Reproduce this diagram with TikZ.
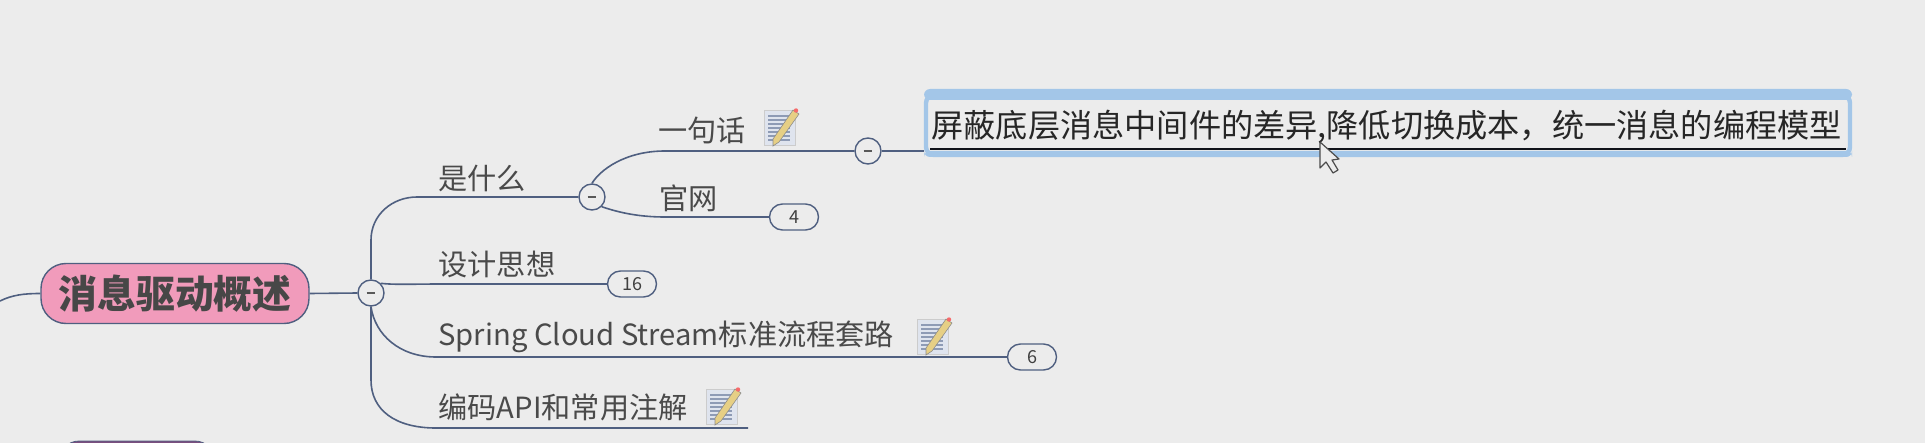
\documentclass[tikz,border=0pt]{standalone}
\usepackage{fontspec}
\setmainfont{Noto Sans CJK SC}[Scale=1]
\usetikzlibrary{calc}
\definecolor{bgc}{HTML}{ECECEC}
\definecolor{linec}{HTML}{4F5F80}
\definecolor{txtc}{HTML}{4A4A4A}
\definecolor{rootc}{HTML}{F19BBB}
\definecolor{selc}{HTML}{A3C6E8}
\definecolor{nextc}{HTML}{7A4F7F}
\definecolor{pencilc}{HTML}{E6CF85}
\definecolor{notec}{HTML}{DFE4EE}
\definecolor{noteline}{HTML}{8E9BB5}
\tikzset{
  x=0.5pt,y=-0.5pt,
  conn/.style={draw=linec,line width=0.8pt},
  fold/.style={circle,draw=linec,line width=0.7pt,fill=bgc,minimum size=13pt,inner sep=0pt,
     path picture={\draw[line width=0.8pt,color=black!65] ($(path picture bounding box.center)+(-2.2pt,0)$)--($(path picture bounding box.center)+(2.2pt,0)$);}},
  pill/.style={rectangle,rounded corners=6.5pt,draw=linec,line width=0.7pt,fill=bgc,minimum width=24.5pt,minimum height=13pt,inner sep=0pt,font=\fontsize{9}{9}\selectfont,text=black!75},
  topic/.style={anchor=west,inner sep=0pt,text=txtc,font=\fontsize{14.6}{15}\selectfont},
  pics/noteicon/.style={code={
    \draw[draw=black!20,fill=notec,line width=0.4pt] (0,3) rectangle (31,38);
    \foreach \yy in {9,13,17,21,25,29,33}{\draw[color=noteline,line width=0.6pt] (4,\yy)--(26,\yy);}
    \fill[color=pencilc] (29,3)--(35,7)--(15,35)--(9,39)--(9,32)--cycle;
    \draw[color=black!45,line width=0.3pt] (29,3)--(35,7)--(15,35)--(9,39)--(9,32)--cycle;
    \fill[color=red!55!bgc] (32,3.5) circle (2.2);
  }}
}
\begin{document}
\begin{tikzpicture}
\useasboundingbox[fill=bgc] (0,0) rectangle (1925,443);
% partly visible box at the bottom edge
\begin{scope}
\clip (0,0) rectangle (1925,443);
\node[name=nextroot,draw=linec,fill=nextc,rounded corners=10pt,minimum width=78pt,minimum height=25pt,inner sep=0pt] at (137,466) {};
\end{scope}
% left stub
\coordinate (stub) at (0,301);
% root
\node[name=root,rectangle,rounded corners=12.5pt,draw=linec,line width=0.7pt,fill=rootc,minimum width=134pt,minimum height=30pt,inner sep=0pt,text=black!72,font=\fontsize{19.4}{20}\bfseries\selectfont] at (175,293.5) {消息驱动概述};
\node[name=cmain,fold] at (371,293) {};
\node[name=cwhat,fold] at (592,197) {};
\node[name=cone,fold] at (868,151) {};
% selected box
\node[name=sel,rectangle,rounded corners=4pt,draw=selc,line width=2.2pt,fill=bgc,minimum width=462pt,minimum height=30pt,inner sep=0pt] at (1388,125) {};
\fill[selc,rounded corners=3pt] (924,89) rectangle (1852,100);
\fill[selc,rounded corners=3pt] (924,151) rectangle (1852,157);
\node[name=seltext,anchor=west,inner sep=0pt,text=black!85,font=\fontsize{16.1}{17}\selectfont] at (931,127) {屏蔽底层消息中间件的差异,降低切换成本，统一消息的编程模型};
% topic labels
\node[name=what,topic] at (438,178) {是什么};
\node[name=one,topic] at (658,130) {一句话};
\node[name=site,topic] at (659,198) {官网};
\node[name=idea,topic] at (438,264) {设计思想};
\node[name=spring,topic] at (438,337) {Spring Cloud Stream标准流程套路};
\node[name=api,topic] at (438,407) {编码API和常用注解};
% count pills
\node[name=p4,pill] at (794,217) {4};
\node[name=p16,pill] at (632,284) {16};
\node[name=p6,pill] at (1032,357) {6};
% underline ends
\coordinate (whatL) at (417,197);
\coordinate (oneL) at (665,151);
\coordinate (siteL) at (665,217);
\coordinate (ideaL) at (440,284);
\coordinate (springL) at (436,357);
\coordinate (apiL) at (436,428);
\coordinate (apiR) at (748,428);
\coordinate (selL) at (930,149);
\coordinate (selR) at (1846,149);
% connectors
\draw[conn] (stub) .. controls (12,295) and (24,293.5) .. (root.west);
\draw[conn] (root.east) -- (cmain.west);
\draw[conn] (cmain.north) -- (371,240) .. controls (371,215) and (392,197) .. (whatL) -- (cwhat.west);
\draw[conn] (cmain.north east) .. controls (395,285) and (415,284) .. (ideaL) -- (p16.west);
\draw[conn] (cmain.south) .. controls (375,335) and (400,357) .. (springL) -- (p6.west);
\draw[conn] (cmain.south) -- (371,380) .. controls (371,410) and (395,428) .. (apiL) -- (apiR);
\draw[conn] (cwhat.north) .. controls (600,170) and (625,151) .. (oneL) -- (cone.west);
\draw[conn] (cwhat.south east) .. controls (620,213) and (640,217) .. (siteL) -- (p4.west);
\draw[conn] (cone.east) -- (sel.west|-cone.east);
\draw[draw=black!80!linec,line width=0.8pt] (selL) -- (selR);
% note icons
\pic at (764,107) {noteicon};
\pic at (917,316) {noteicon};
\pic at (706,386) {noteicon};
% mouse pointer
\draw[fill=bgc,draw=black!70,line width=0.6pt,line join=round] (1320,142) -- (1320,168) -- (1326,162) -- (1333,173) -- (1338,170) -- (1332,160) -- (1339,159) -- cycle;
\end{tikzpicture}
\end{document}
